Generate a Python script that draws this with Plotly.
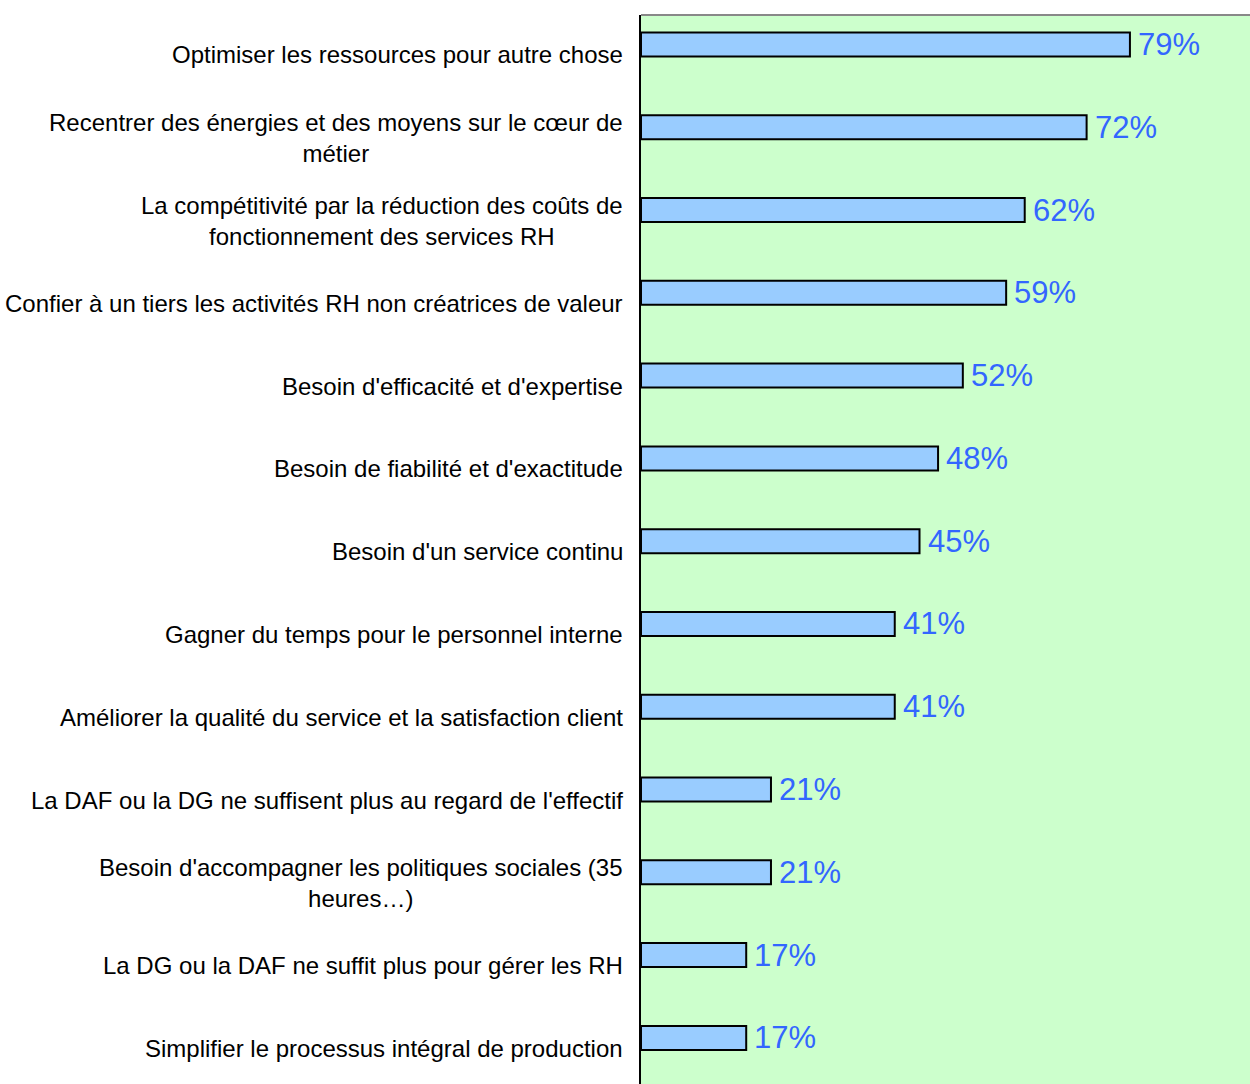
import plotly.graph_objects as go

categories = [
    "Optimiser les ressources pour autre chose",
    "Recentrer des énergies et des moyens sur le cœur de<br>métier",
    "La compétitivité par la réduction des coûts de<br>fonctionnement des services RH",
    "Confier à un tiers les activités RH non créatrices de valeur",
    "Besoin d'efficacité et d'expertise",
    "Besoin de fiabilité et d'exactitude",
    "Besoin d'un service continu",
    "Gagner du temps pour le personnel interne",
    "Améliorer la qualité du service et la satisfaction client",
    "La DAF ou la DG ne suffisent plus au regard de l'effectif",
    "Besoin d'accompagner les politiques sociales (35<br>heures…)",
    "La DG ou la DAF ne suffit plus pour gérer les RH",
    "Simplifier le processus intégral de production",
]
values = [79, 72, 62, 59, 52, 48, 45, 41, 41, 21, 21, 17, 17]
value_labels = [f"{v}%" for v in values]

positions = list(range(len(categories)))

fig = go.Figure()
fig.add_trace(go.Bar(
    x=values,
    y=positions,
    orientation="h",
    width=0.29,
    offset=-0.272,
    marker=dict(color="#99CCFF", line=dict(color="#000000", width=2)),
    hoverinfo="skip",
    showlegend=False,
))

annotations = []
for p, v, t in zip(positions, values, value_labels):
    annotations.append(dict(
        x=v, y=p - 0.127, xref="x", yref="y", text=t, showarrow=False,
        xanchor="left", yanchor="middle", xshift=6,
        font=dict(family="Liberation Sans, Arial", size=31, color="#3366FF"),
    ))
for p, c in zip(positions, categories):
    annotations.append(dict(
        x=0, y=p, xref="paper", yref="y", text=c, showarrow=False,
        xanchor="right", yanchor="middle", xshift=-16, align="center",
        font=dict(family="Liberation Sans, Arial", size=24, color="#000000"),
    ))

fig.update_layout(
    width=1250, height=1084,
    margin=dict(l=641, r=0, t=15, b=0),
    paper_bgcolor="#FFFFFF",
    plot_bgcolor="#CCFFCC",
    annotations=annotations,
    xaxis=dict(range=[0, 98.4], showgrid=False, zeroline=False, showticklabels=False,
               ticks="", showline=False, fixedrange=True),
    yaxis=dict(range=[12.43, -0.483], showgrid=False, zeroline=False, showticklabels=False,
               ticks="", showline=True, linecolor="#000000", linewidth=2, fixedrange=True),
    shapes=[dict(type="line", xref="paper", yref="paper", x0=0, x1=1, y0=1, y1=1,
                 line=dict(color="#888888", width=2))],
)

fig.write_html("out.html")
